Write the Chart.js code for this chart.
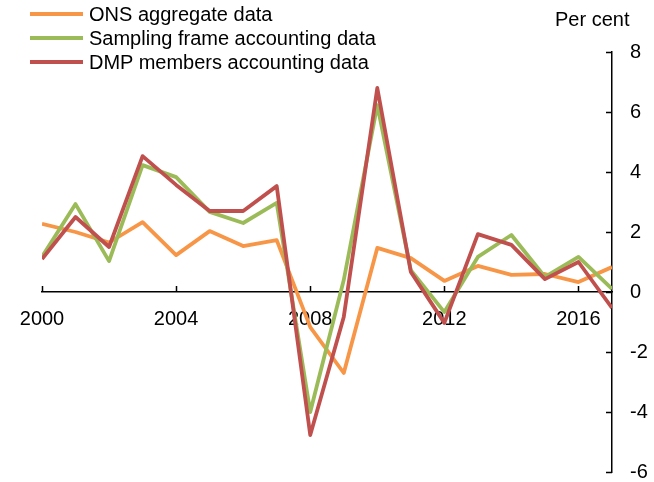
<!DOCTYPE html>
<html>
<head>
<meta charset="utf-8">
<script src="https://cdn.jsdelivr.net/npm/chart.js@4/dist/chart.umd.min.js"></script>
<style>
  body { margin: 0; background: #fff; font-family: Arial, "Liberation Sans", sans-serif; }
  #wrap { position: relative; width: 654px; height: 482px; }
  .legend { position: absolute; left: 30px; top: 2px; }
  .legend div { height: 24px; line-height: 24px; font-size: 20px; color: #000; white-space: nowrap; }
  .legend span { display: inline-block; width: 53px; height: 4px; vertical-align: middle; margin-right: 6px; position: relative; top: -2px; }
  .unit { position: absolute; left: 555px; top: 8px; font-size: 20px; color: #000; }
</style>
</head>
<body>
<div id="wrap">
  <canvas id="chart" width="654" height="482"></canvas>
  <div class="legend">
    <div><span style="background:#f79646"></span>ONS aggregate data</div>
    <div><span style="background:#9bbb59"></span>Sampling frame accounting data</div>
    <div><span style="background:#c0504d"></span>DMP members accounting data</div>
  </div>
  <div class="unit">Per cent</div>
</div>
<script>
// Annual values, per cent
const years = [2000, 2001, 2002, 2003, 2004, 2005, 2006, 2007, 2008, 2009, 2010, 2011, 2012, 2013, 2014, 2015, 2016, 2017];
const onsAggregate = [2.27, 2.0, 1.65, 2.33, 1.23, 2.03, 1.53, 1.73, -1.17, -2.7, 1.47, 1.13, 0.37, 0.87, 0.57, 0.6, 0.33, 0.83];
const samplingFrame = [1.17, 2.93, 1.03, 4.23, 3.83, 2.67, 2.3, 2.97, -4.0, 0.4, 6.23, 0.73, -0.67, 1.17, 1.9, 0.5, 1.17, 0.1];
const dmpMembers = [1.1, 2.5, 1.5, 4.53, 3.57, 2.7, 2.7, 3.53, -4.77, -0.83, 6.8, 0.67, -1.03, 1.93, 1.57, 0.43, 1.0, -0.53];

const xTicks = [2000, 2004, 2008, 2012, 2016];
const yMin = -6, yMax = 8, yStep = 2;

const toPoints = vals => vals.map((v, i) => ({ x: years[i], y: v }));

// small inward tick marks on both axes
const tickMarks = {
  id: 'tickMarks',
  afterDraw(chart) {
    const { ctx, scales: { x, y } } = chart;
    const zeroY = y.getPixelForValue(0);
    ctx.save();
    ctx.strokeStyle = '#000';
    ctx.lineWidth = 1.5;
    ctx.beginPath();
    xTicks.forEach(v => {
      const px = Math.round(x.getPixelForValue(v)) + 0.5;
      ctx.moveTo(px, zeroY);
      ctx.lineTo(px, zeroY - 6);
    });
    for (let v = yMin; v <= yMax; v += yStep) {
      const py = Math.round(y.getPixelForValue(v)) + 0.5;
      ctx.moveTo(y.left, py);
      ctx.lineTo(y.left - 6, py);
    }
    ctx.stroke();
    ctx.restore();
  }
};

const baseLine = { borderWidth: 3.8, pointRadius: 0, tension: 0, fill: false, borderJoinStyle: 'round' };

new Chart(document.getElementById('chart'), {
  type: 'line',
  data: {
    datasets: [
      { ...baseLine, label: 'ONS aggregate data', data: toPoints(onsAggregate), borderColor: '#f79646', order: 2 },
      { ...baseLine, label: 'Sampling frame accounting data', data: toPoints(samplingFrame), borderColor: '#9bbb59', order: 1 },
      { ...baseLine, label: 'DMP members accounting data', data: toPoints(dmpMembers), borderColor: '#c0504d', order: 0 }
    ]
  },
  options: {
    responsive: false,
    animation: false,
    layout: { padding: { left: 42, top: 52, bottom: 10, right: 0 } },
    plugins: { legend: { display: false }, tooltip: { enabled: false } },
    scales: {
      x: {
        type: 'linear',
        position: { y: 0 },
        min: 2000,
        max: 2017,
        afterBuildTicks: scale => { scale.ticks = xTicks.map(v => ({ value: v })); },
        afterFit: scale => {
          scale.height = 0;
          scale.paddingLeft = 0;
          scale.paddingRight = 0;
        },
        ticks: {
          color: '#000',
          font: { family: 'Arial, "Liberation Sans"', size: 20 },
          padding: 15,
          maxRotation: 0,
          callback: v => String(v)
        },
        grid: { display: false, drawTicks: false },
        border: { display: true, color: '#000', width: 1.5 }
      },
      y: {
        position: 'right',
        min: yMin,
        max: yMax,
        afterFit: scale => {
          scale.width = 42;
          scale.paddingTop = 0;
          scale.paddingBottom = 0;
        },
        ticks: {
          stepSize: yStep,
          color: '#000',
          font: { family: 'Arial, "Liberation Sans"', size: 20 },
          padding: 18
        },
        grid: { display: false, drawTicks: false },
        border: { display: true, color: '#000', width: 1.5 }
      }
    }
  },
  plugins: [tickMarks]
});
</script>
</body>
</html>
